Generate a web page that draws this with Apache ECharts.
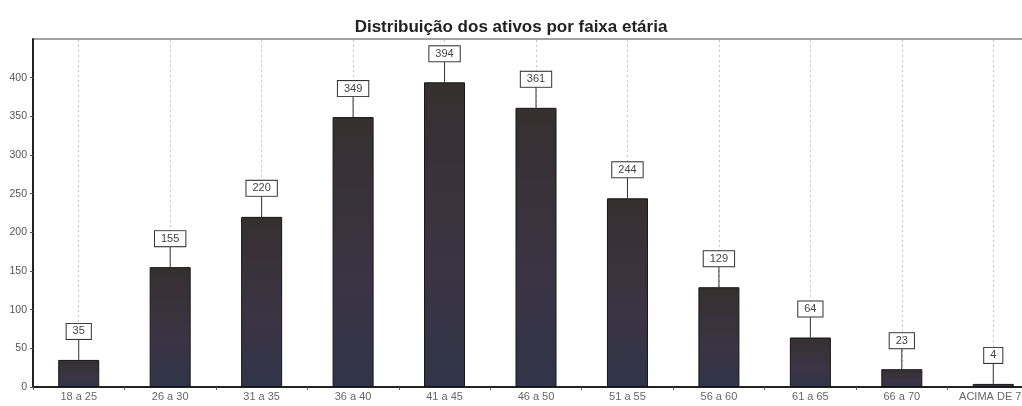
<!DOCTYPE html>
<html>
<head>
<meta charset="utf-8">
<script src="https://cdn.jsdelivr.net/npm/echarts@6/dist/echarts.min.js"></script>
<style>
  * { margin: 0; padding: 0; }
  body { background: #fff; }
</style>
</head>
<body>
<!-- container for the chart -->
<div id="main" style="width: 1022px; height: 406px;"></div>
<script>
var faixas = ['18 a 25', '26 a 30', '31 a 35', '36 a 40', '41 a 45', '46 a 50', '51 a 55', '56 a 60', '61 a 65', '66 a 70', 'ACIMA DE 70'];
var ativos = [35, 155, 220, 349, 394, 361, 244, 129, 64, 23, 4];
var yTicks = [0, 50, 100, 150, 200, 250, 300, 350, 400, 450];

var chart = echarts.init(document.getElementById('main'));
chart.setOption({
  animation: false,
  textStyle: { fontFamily: 'Liberation Sans, Arial, sans-serif' },
  title: {
    text: 'Distribuição dos ativos por faixa etária',
    left: 'center',
    top: 14,
    textStyle: { fontSize: 17, fontWeight: 'bold', color: '#222' }
  },
  grid: {
    left: 33,
    width: 1006,
    top: 39,
    bottom: 19,
    outerBoundsMode: 'none',
    containLabel: false,
    show: true,
    borderColor: '#444',
    borderWidth: 1
  },
  xAxis: {
    type: 'category',
    data: faixas,
    axisLine: { lineStyle: { color: '#222', width: 2 } },
    axisTick: { show: true, length: 3, lineStyle: { color: '#555' } },
    axisLabel: { color: '#666', fontSize: 11, margin: 4 },
    splitLine: { show: false }
  },
  yAxis: {
    type: 'value',
    min: yTicks[0],
    max: yTicks[yTicks.length - 1],
    interval: 50,
    axisLine: { show: true, lineStyle: { color: '#222', width: 2 } },
    axisTick: { show: true, length: 3, lineStyle: { color: '#555' } },
    axisLabel: { color: '#555', fontSize: 10.5, margin: 6, showMaxLabel: false },
    splitLine: { show: false }
  },
  series: [
    {
      type: 'bar',
      data: ativos,
      barWidth: 41,
      itemStyle: {
        color: new echarts.graphic.LinearGradient(0, 0, 0, 1, [
          { offset: 0, color: '#35302f' },
          { offset: 0.6, color: '#3b3444' },
          { offset: 1, color: '#313449' }
        ]),
        borderColor: '#151515',
        borderWidth: 1
      },
      label: {
        show: true,
        position: 'top',
        distance: 21,
        color: '#444',
        fontSize: 11,
        backgroundColor: '#fff',
        borderColor: '#333',
        borderWidth: 1,
        padding: [2, 6, 2, 6]
      },
      z: 3
    },
    {
      // leader line from the bar top to its label box, plus dotted guides
      type: 'custom',
      data: ativos.map(function (v, i) { return [i, v]; }),
      renderItem: function (params, api) {
        var p = api.coord([api.value(0), api.value(1)]);
        return {
          type: 'line',
          shape: { x1: p[0], y1: p[1], x2: p[0], y2: p[1] - 21 },
          style: { stroke: '#333', lineWidth: 1 }
        };
      },
      markLine: {
        silent: true,
        z: 1,
        symbol: 'none',
        label: { show: false },
        lineStyle: { color: '#c4c4c4', type: [2, 3], width: 1 },
        data: faixas.map(function (f) { return { xAxis: f }; })
      },
      z: 2
    }
  ]
});
</script>
</body>
</html>
